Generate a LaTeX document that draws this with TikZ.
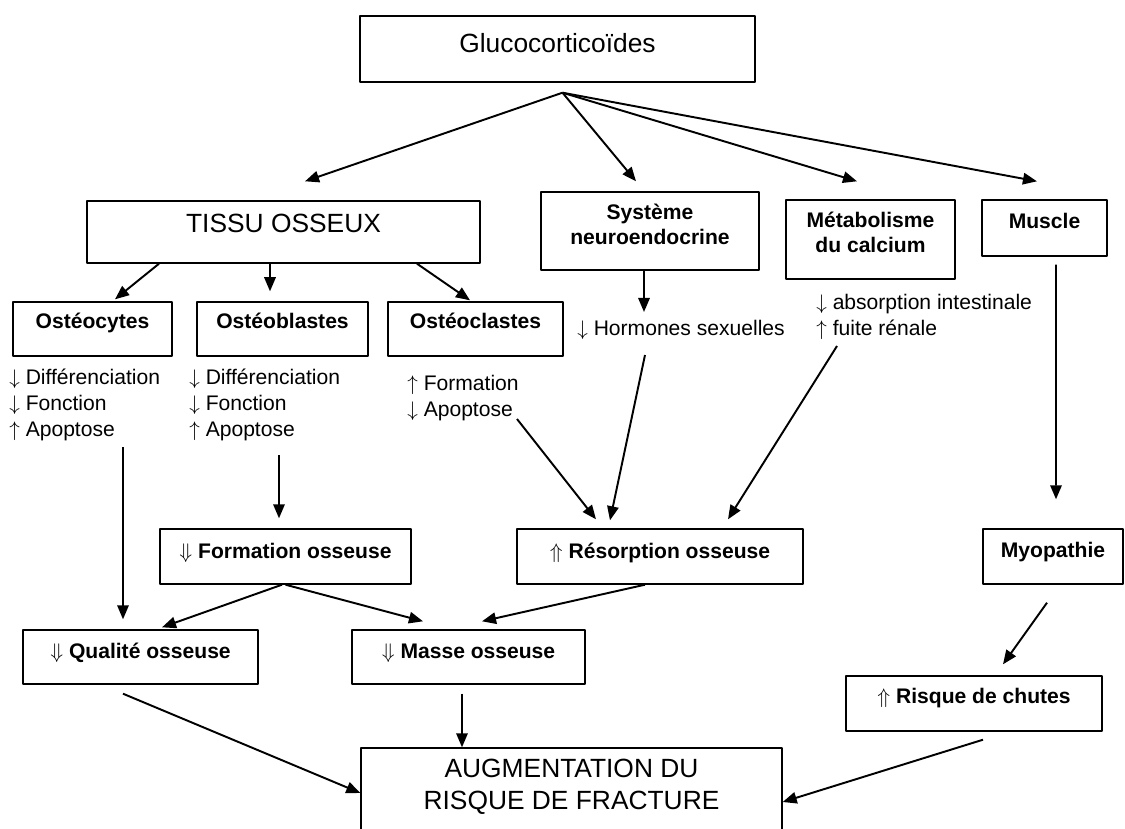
\documentclass[tikz,border=0pt]{standalone}
\usepackage{fontspec}
\setmainfont{Liberation Sans}
\usetikzlibrary{arrows.meta}
\begin{document}
\begin{tikzpicture}[x=0.02cm, y=-0.02cm, >={Triangle[length=8pt,width=6.5pt]}, line join=round]
	\tikzset{box/.style={draw, line width=0.8pt, inner sep=0pt, align=center},
		big/.style={font=\fontsize{15}{18.5}\selectfont},
		lab/.style={font=\fontsize{12}{14.2}\selectfont\bfseries},
		lst/.style={font=\fontsize{12}{14.7}\selectfont, align=left, inner sep=0pt, anchor=north west},
		arr/.style={->, line width=1.1pt}}
	\useasboundingbox (0,0) rectangle (1125,828);
	% top
	\node[box,big,minimum width=7.9cm,minimum height=1.32cm,text height=11pt,text depth=7pt] (gluco) at (557.5,49) {Glucocorticoïdes};
	\node[box,big,minimum width=7.86cm,minimum height=1.24cm,text height=11pt,text depth=10.5pt] (tissu) at (283.5,232) {TISSU OSSEUX};
	\node[box,lab,minimum width=4.36cm,minimum height=1.56cm,text height=23.2pt,text depth=7.8pt] (systeme) at (650,231) {Système\\neuroendocrine};
	\node[box,lab,minimum width=3.38cm,minimum height=1.58cm,text height=23.2pt,text depth=8.4pt] (metab) at (870.5,239.5) {Métabolisme\\du calcium};
	\node[box,lab,minimum width=2.5cm,minimum height=1.12cm,text height=9pt,text depth=8.4pt] (muscle) at (1044.5,228) {Muscle};
	% cellules
	\node[box,lab,minimum width=3.18cm,minimum height=1.08cm,text height=9pt,text depth=9.4pt] (ocytes) at (92.5,329) {Ostéocytes};
	\node[box,lab,minimum width=3.42cm,minimum height=1.08cm,text height=9pt,text depth=9.4pt] (oblastes) at (282.5,329) {Ostéoblastes};
	\node[box,lab,minimum width=3.5cm,minimum height=1.08cm,text height=9pt,text depth=9.4pt] (oclastes) at (475.5,329) {Ostéoclastes};
	\node[lst] (ocyteslist) at (9,369) {$\downarrow$ Différenciation\\$\downarrow$ Fonction\\$\uparrow$ Apoptose};
	\node[lst] (oblasteslist) at (189,369) {$\downarrow$ Différenciation\\$\downarrow$ Fonction\\$\uparrow$ Apoptose};
	\node[lst] (oclasteslist) at (407,375) {$\uparrow$ Formation\\$\downarrow$ Apoptose};
	\node[lst,anchor=west] (hormones) at (577,330) {$\downarrow$ Hormones sexuelles};
	\node[lst] (metablist) at (816,294) {$\downarrow$ absorption intestinale\\$\uparrow$ fuite rénale};
	% effets
	\node[box,lab,minimum width=5.02cm,minimum height=1.1cm,text height=9pt,text depth=6.6pt] (formation) at (285.5,556.5) {$\Downarrow$ Formation osseuse};
	\node[box,lab,minimum width=5.72cm,minimum height=1.1cm,text height=9pt,text depth=6.6pt] (resorption) at (660,556.5) {$\Uparrow$ Résorption osseuse};
	\node[box,lab,minimum width=2.8cm,minimum height=1.1cm,text height=9pt,text depth=7.8pt] (myopathie) at (1053,556.5) {Myopathie};
	\node[box,lab,minimum width=4.7cm,minimum height=1.08cm,text height=9pt,text depth=7.2pt] (qualite) at (140.5,657) {$\Downarrow$ Qualité osseuse};
	\node[box,lab,minimum width=4.66cm,minimum height=1.08cm,text height=9pt,text depth=7.2pt] (masse) at (468.5,657) {$\Downarrow$ Masse osseuse};
	\node[box,lab,minimum width=5.12cm,minimum height=1.1cm,text height=9pt,text depth=9pt] (risque) at (974,703.5) {$\Uparrow$ Risque de chutes};
	\node[box,big,minimum width=8.42cm,minimum height=1.84cm,text height=29.5pt,text depth=11.8pt] (aug) at (571.5,794) {AUGMENTATION DU\\RISQUE DE FRACTURE};
	% fleches
	\draw[arr] ([shift={(5,10)}]gluco.south) -- ([shift={(21.5,-19)}]tissu.north);
	\draw[arr] ([shift={(5,10)}]gluco.south) -- ([shift={(-14,-10)}]systeme.north);
	\draw[arr] ([shift={(5,10)}]gluco.south) -- ([shift={(-13.5,-18)}]metab.north);
	\draw[arr] ([shift={(5,10)}]gluco.south) -- ([shift={(-7.5,-18)}]muscle.north);
	\draw[arr] ([shift={(-124.5,0)}]tissu.south) -- ([shift={(22.5,-2)}]ocytes.north);
	\draw[arr] ([shift={(-13.5,0)}]tissu.south) -- ([shift={(-12.5,-10)}]oblastes.north);
	\draw[arr] ([shift={(133.5,0)}]tissu.south) -- ([shift={(-5.5,-1)}]oclastes.north);
	\draw[arr] ([shift={(-6,0)}]systeme.south) -- ([shift={(67,-18)}]hormones.west);
	\draw[arr] ([shift={(114,78)}]ocyteslist.north west) -- ([shift={(-17.5,-10)}]qualite.north);
	\draw[arr] ([shift={(90,86)}]oblasteslist.north west) -- ([shift={(-6.5,-10)}]formation.north);
	\draw[arr] ([shift={(110,44)}]oclasteslist.north west) -- ([shift={(-64,-9)}]resorption.north);
	\draw[arr] ([shift={(68,25)}]hormones.west) -- ([shift={(-50,-8)}]resorption.north);
	\draw[arr] ([shift={(21,52)}]metablist.north west) -- ([shift={(68,-9)}]resorption.north);
	\draw[arr] ([shift={(11.5,8)}]muscle.south) -- ([shift={(3,-29)}]myopathie.north);
	\draw[arr] ([shift={(-3.5,0)}]formation.south) -- ([shift={(21.5,-2)}]qualite.north);
	\draw[arr] (formation.south) -- ([shift={(-45.5,-8)}]masse.north);
	\draw[arr] ([shift={(-15,0)}]resorption.south) -- ([shift={(13.5,-8)}]masse.north);
	\draw[arr] ([shift={(-6,18)}]myopathie.south) -- ([shift={(29,-11)}]risque.north);
	\draw[arr] ([shift={(-17.5,9)}]qualite.south) -- ([shift={(0,-1)}]aug.west);
	\draw[arr] ([shift={(-6.5,9)}]masse.south) -- ([shift={(-109.5,0)}]aug.north);
	\draw[arr] ([shift={(9,8)}]risque.south) -- ([shift={(0,8)}]aug.east);
\end{tikzpicture}
\end{document}
